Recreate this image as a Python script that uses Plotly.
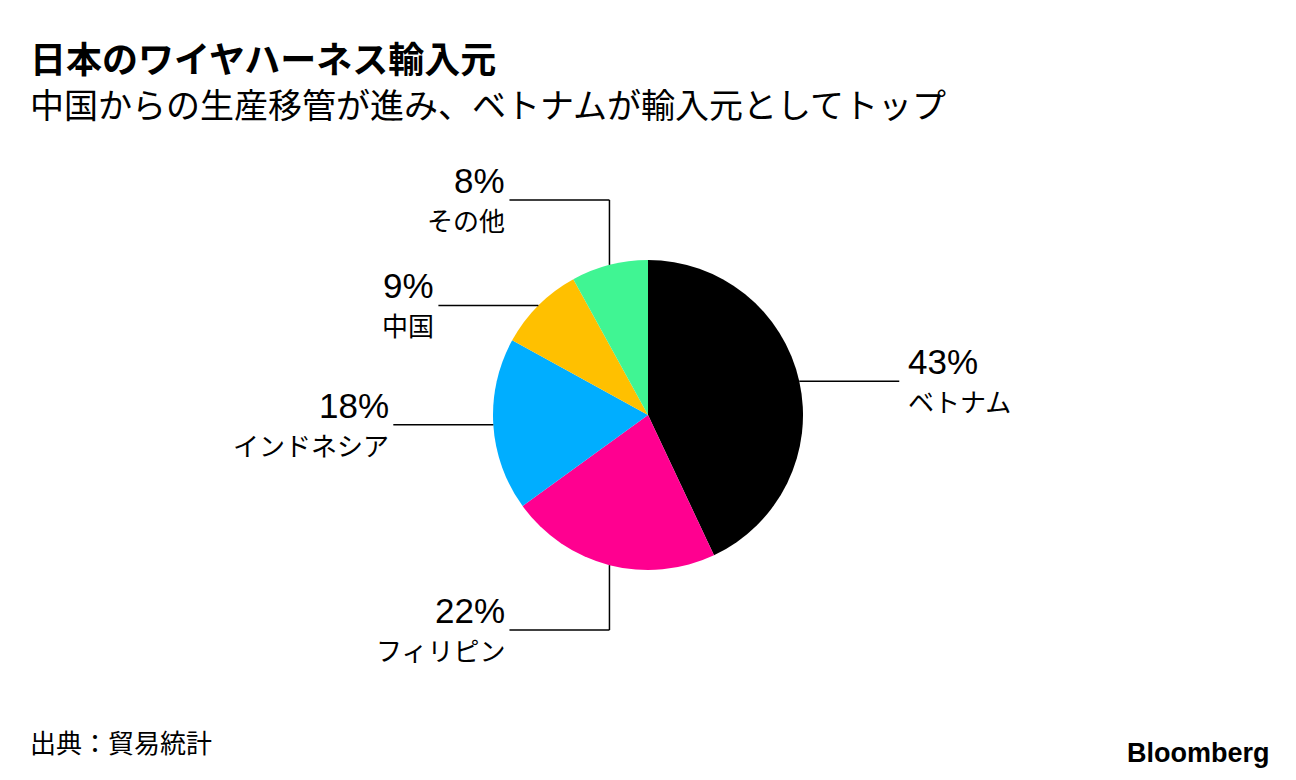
import math
import plotly.graph_objects as go

# ---- data ----
labels = ["ベトナム", "フィリピン", "インドネシア", "中国", "その他"]
values = [43, 22, 18, 9, 8]
colors = ["#000000", "#FF0090", "#00AEFF", "#FFC000", "#40F593"]

title = "<b>日本のワイヤハーネス輸入元</b>"
subtitle = "中国からの生産移管が進み、ベトナムが輸入元としてトップ"
source = "出典：貿易統計"

W, H = 1296, 780
CX, CY, R = 648, 415, 155
JP = "Noto Sans CJK JP"
LAT = "Liberation Sans"


def px(x):
    return x / W


def py(y):
    return 1 - y / H


fig = go.Figure()
fig.add_trace(go.Pie(
    labels=labels, values=values, sort=False, direction="clockwise", rotation=0,
    marker=dict(colors=colors, line=dict(width=0)),
    textinfo="none", hoverinfo="label+percent", showlegend=False,
    domain=dict(x=[px(CX - R), px(CX + R)], y=[py(CY + R), py(CY - R)]),
))

shapes = []
annotations = []
total = sum(values)
cum = 0
for lab, v in zip(labels, values):
    mid = (cum + v / 2) / total * 2 * math.pi
    cum += v
    sx = CX + R * math.sin(mid)
    sy = CY - R * math.cos(mid)
    line = dict(color="#000000", width=1.5)
    side = 1 if math.sin(mid) > 0 else -1
    if abs(math.sin(mid)) > 0.5:
        ex, ey = sx + side * 100, sy
        shapes.append(dict(type="line", xref="paper", yref="paper",
                           x0=px(sx), y0=py(sy), x1=px(ex), y1=py(ey), line=line))
    else:
        ey = CY - (R + 60) if math.cos(mid) > 0 else CY + (R + 60)
        ex = sx + side * 100
        shapes.append(dict(type="line", xref="paper", yref="paper",
                           x0=px(sx), y0=py(sy), x1=px(sx), y1=py(ey), line=line))
        shapes.append(dict(type="line", xref="paper", yref="paper",
                           x0=px(sx), y0=py(ey), x1=px(ex), y1=py(ey), line=line))
    tx = ex + (7 if side > 0 else -2)
    anchor = "left" if side > 0 else "right"
    annotations.append(dict(xref="paper", yref="paper", x=px(tx), y=py(ey + 2),
                            xanchor=anchor, yanchor="bottom", showarrow=False,
                            text=f"{v}%", font=dict(family=LAT, size=35, color="#000")))
    annotations.append(dict(xref="paper", yref="paper", x=px(tx), y=py(ey - 1),
                            xanchor=anchor, yanchor="top", showarrow=False,
                            text=lab, font=dict(family=JP, size=26, color="#000")))

annotations += [
    dict(xref="paper", yref="paper", x=px(28), y=py(57), xanchor="left", yanchor="middle",
         showarrow=False, text=title, font=dict(family=JP, size=36, color="#000")),
    dict(xref="paper", yref="paper", x=px(28), y=py(104), xanchor="left", yanchor="middle",
         showarrow=False, text=subtitle, font=dict(family=JP, size=34, color="#000")),
    dict(xref="paper", yref="paper", x=px(28), y=py(741), xanchor="left", yanchor="middle",
         showarrow=False, text=source, font=dict(family=JP, size=26, color="#000")),
    dict(xref="paper", yref="paper", x=px(1272), y=py(753), xanchor="right", yanchor="middle",
         showarrow=False, text="<b>Bloomberg</b>", font=dict(family=LAT, size=27, color="#000")),
]

fig.update_layout(
    width=W, height=H, margin=dict(l=0, r=0, t=0, b=0),
    paper_bgcolor="#FFFFFF", plot_bgcolor="#FFFFFF",
    shapes=shapes, annotations=annotations,
)

fig.write_html("out.html", config={"displayModeBar": False},
               post_script="document.body.style.margin='0px';")
